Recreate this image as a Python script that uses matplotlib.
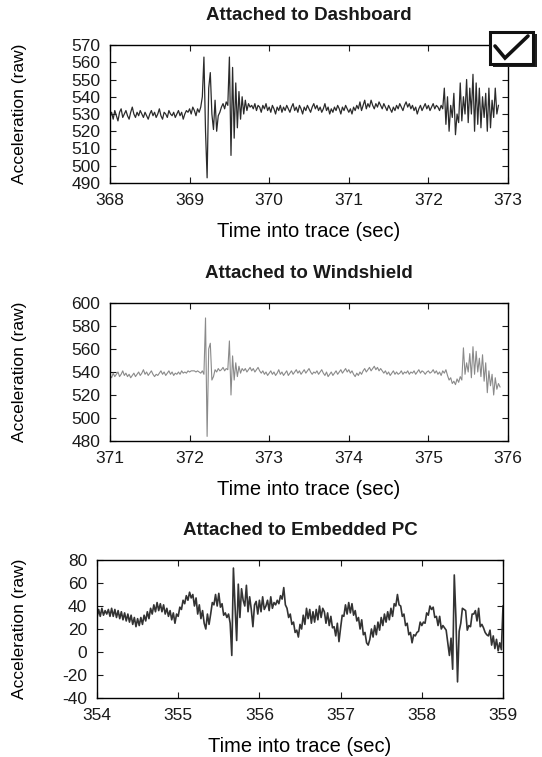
import numpy as np
import matplotlib.pyplot as plt
from matplotlib.patches import Rectangle
from matplotlib.lines import Line2D

plt.rcParams.update({
    "font.family": ["Liberation Sans", "DejaVu Sans"],
    "font.size": 12,
    "axes.unicode_minus": False,
    "axes.linewidth": 1.0,
    "xtick.direction": "in",
    "ytick.direction": "in",
    "xtick.top": True,
    "ytick.right": True,
    "xtick.major.size": 4,
    "ytick.major.size": 4,
    "text.color": "#1a1a1a",
    "xtick.color": "#1a1a1a",
    "ytick.color": "#1a1a1a",
})

# sampling of the traces (seconds)
dt = 0.02

# dashboard trace, starts at 368.00 s
dash_t0 = 368.0
dash_vals = [
    528, 531, 527, 532, 529, 526, 531, 533, 528, 530,
    532, 529, 527, 531, 534, 530, 528, 531, 529, 532,
    530, 528, 531, 529, 527, 530, 532, 529, 531, 528,
    530, 533, 529, 527, 531, 530, 528, 532, 530, 529,
    531, 528, 530, 532, 529, 531, 527, 530, 532, 531,
    533, 530, 534, 532, 529, 533, 531, 534, 540, 563,
    520, 493, 545, 554, 530, 521, 538, 520, 529, 531,
    534, 536, 533, 537, 535, 563, 506, 557, 516, 548,
    522, 543, 527, 540, 530, 538, 532, 536, 534, 535,
    533, 536, 532, 535, 534, 531, 535, 533, 536, 532,
    534, 531, 535, 533, 530, 534, 532, 535, 531, 534,
    532, 535, 533, 531, 534, 536, 532, 534, 531, 535,
    533, 530, 534, 532, 535, 533, 531, 534, 536, 533,
    535, 532, 534, 531, 533, 536, 532, 534, 530, 533,
    531, 534, 532, 535, 533, 530, 534, 532, 535, 533,
    531, 533, 530, 534, 532, 535, 533, 537, 532, 535,
    538, 533, 536, 534, 538, 535, 533, 536, 534, 537,
    535, 533, 536, 534, 532, 535, 533, 531, 534, 532,
    535, 533, 536, 534, 532, 535, 537, 534, 536, 533,
    535, 532, 534, 530, 533, 535, 532, 534, 536, 533,
    535, 532, 534, 536, 533, 535, 534, 532, 535, 533,
    545, 524, 540, 520, 535, 528, 542, 518, 530, 525,
    548, 526, 540, 530, 550, 525, 545, 530, 553, 520,
    548, 524, 545, 522, 540, 528, 542, 520, 545, 522,
    538, 528, 545, 530, 535,
]

# windshield trace, starts at 371.00 s
wind_t0 = 371.0
wind_vals = [
    537, 535, 539, 536, 538, 540, 536, 538, 541, 537,
    539, 536, 538, 535, 537, 539, 536, 538, 540, 537,
    539, 542, 538, 540, 537, 539, 541, 538, 536, 538,
    537, 539, 541, 538, 540, 537, 539, 541, 538, 540,
    537, 539, 538, 540, 538, 541, 539, 540, 539, 541,
    540, 541, 541, 541, 540, 541, 540, 539, 541, 538,
    587, 484, 560, 565, 533, 536, 542, 540, 543, 541,
    542, 544, 541, 543, 542, 567, 520, 554, 533, 548,
    536, 545, 539, 543, 541, 543, 540, 542, 544, 541,
    543, 540, 542, 544, 541, 539, 541, 538, 540, 537,
    539, 541, 538, 540, 537, 539, 542, 538, 540, 537,
    539, 541, 537, 539, 541, 538, 540, 542, 539, 541,
    538, 540, 542, 539, 541, 543, 540, 538, 540, 539,
    541, 538, 540, 542, 539, 537, 540, 536, 538, 540,
    537, 539, 541, 538, 540, 542, 539, 541, 543, 540,
    542, 539, 541, 538, 536, 539, 537, 540, 538, 541,
    543, 540, 542, 544, 541, 543, 545, 542, 544, 541,
    543, 541, 539, 541, 538, 540, 537, 539, 541, 538,
    540, 538, 539, 541, 538, 540, 539, 541, 538, 540,
    539, 541, 538, 540, 542, 539, 541, 540, 538, 540,
    541, 539, 540, 542, 539, 541, 538, 540, 537, 541,
    539, 542, 537, 533, 535, 530, 532, 529, 534, 531,
    536, 533, 561, 538, 548, 540, 556, 535, 562, 538,
    558, 540, 552, 536, 555, 532, 548, 522, 541, 528,
    538, 520, 535, 525, 530, 527,
]

# embedded PC trace, starts at 354.00 s
pc_t0 = 354.0
pc_vals = [
    30, 37, 31, 38, 32, 36, 33, 37, 31, 38,
    31, 37, 30, 36, 29, 35, 28, 34, 27, 33,
    26, 32, 24, 30, 22, 29, 23, 30, 24, 32,
    27, 35, 29, 38, 33, 41, 35, 43, 36, 42,
    35, 41, 33, 38, 31, 36, 28, 34, 25, 33,
    31, 39, 37, 45, 42, 49, 45, 52, 47, 50,
    40, 47, 33, 41, 29, 36, 25, 20, 33, 24,
    33, 43, 41, 50, 40, 51, 39, 42, 32, 34,
    30, 33, 25, -3, 73, 40, 10, 59, 30, 55,
    45, 40, 58, 35, 48, 37, 22, 41, 44, 33,
    45, 35, 48, 37, 40, 45, 36, 48, 38, 43,
    41, 45, 42, 49, 46, 56, 41, 38, 30, 33,
    24, 26, 17, 19, 13, 24, 20, 32, 24, 38,
    29, 37, 25, 35, 26, 37, 28, 40, 30, 38,
    35, 25, 34, 23, 31, 21, 22, 14, 25, 9,
    21, 32, 31, 41, 33, 43, 34, 42, 32, 36,
    27, 30, 20, 28, 15, 17, 8, 6, 11, 20,
    13, 23, 15, 26, 19, 30, 23, 33, 26, 35,
    28, 38, 31, 42, 40, 50, 41, 40, 31, 33,
    23, 25, 15, 17, 8, 15, 14, 17, 18, 26,
    23, 26, 25, 34, 32, 40, 37, 39, 30, 31,
    23, 31, 20, 23, 21, 19, 8, -3, 12, -15,
    67, 30, -26, 18, 25, 38, 37, 36, 19, 23,
    22, 33, 33, 36, 27, 38, 22, 24, 21, 17,
    15, 14, 19, 6, 14, 3, 11, 1, 8, 2,
    40,
]

titles = ["Attached to Dashboard", "Attached to Windshield", "Attached to Embedded PC"]
xlims = [(368, 373), (371, 376), (354, 359)]
ylims = [(490, 570), (480, 600), (-40, 80)]
ysteps = [10, 20, 20]

panels = [
    (dash_t0, dash_vals, "#2b2b2b", 0.9),
    (wind_t0, wind_vals, "#8a8a8a", 0.8),
    (pc_t0, pc_vals, "#333333", 1.2),
]

W, H = 542, 757
boxes = [(110, 45, 508, 183), (110, 303, 508, 441), (97, 560, 503, 698)]

fig = plt.figure(figsize=(W / 100, H / 100), dpi=100)

for i, (x0, y0, x1, y1) in enumerate(boxes):
    ax = fig.add_axes([x0 / W, 1 - y1 / H, (x1 - x0) / W, (y1 - y0) / H])
    t0, vals, col, lw = panels[i]
    t = t0 + dt * np.arange(len(vals))
    ax.plot(t, vals, color=col, lw=lw)
    ax.set_xlim(*xlims[i])
    ax.set_ylim(*ylims[i])
    ax.set_xticks(np.arange(xlims[i][0], xlims[i][1] + 1, 1))
    ax.set_yticks(np.arange(ylims[i][0], ylims[i][1] + 1, ysteps[i]))
    ax.tick_params(axis="x", labelsize=12.5, pad=7.5)
    ax.tick_params(axis="y", labelsize=12.5, pad=7)
    ax.set_title(titles[i], fontsize=13.5, fontweight="bold", pad=18)
    ax.set_xlabel("Time into trace (sec)", fontsize=14.5, labelpad=10)
    ax.set_ylabel("Acceleration (raw)", fontsize=12.5)
    ax.yaxis.set_label_coords((27 - x0) / (x1 - x0), 0.5)

# check box in the top right corner
fig.patches.append(Rectangle((493 / W, 1 - 67 / H), 44 / W, 33 / H,
                             transform=fig.transFigure, facecolor="#222222",
                             edgecolor="none", zorder=10))
fig.patches.append(Rectangle((490 / W, 1 - 64 / H), 43 / W, 32 / H,
                             transform=fig.transFigure, facecolor="white",
                             edgecolor="#111111", lw=2.2, zorder=11))
fig.lines.append(Line2D([495 / W, 505 / W, 528 / W],
                        [1 - 46 / H, 1 - 58 / H, 1 - 36 / H],
                        transform=fig.transFigure, color="#111111", lw=2.6,
                        zorder=12, solid_capstyle="round", solid_joinstyle="miter"))

fig.savefig("out.png", dpi=100)
